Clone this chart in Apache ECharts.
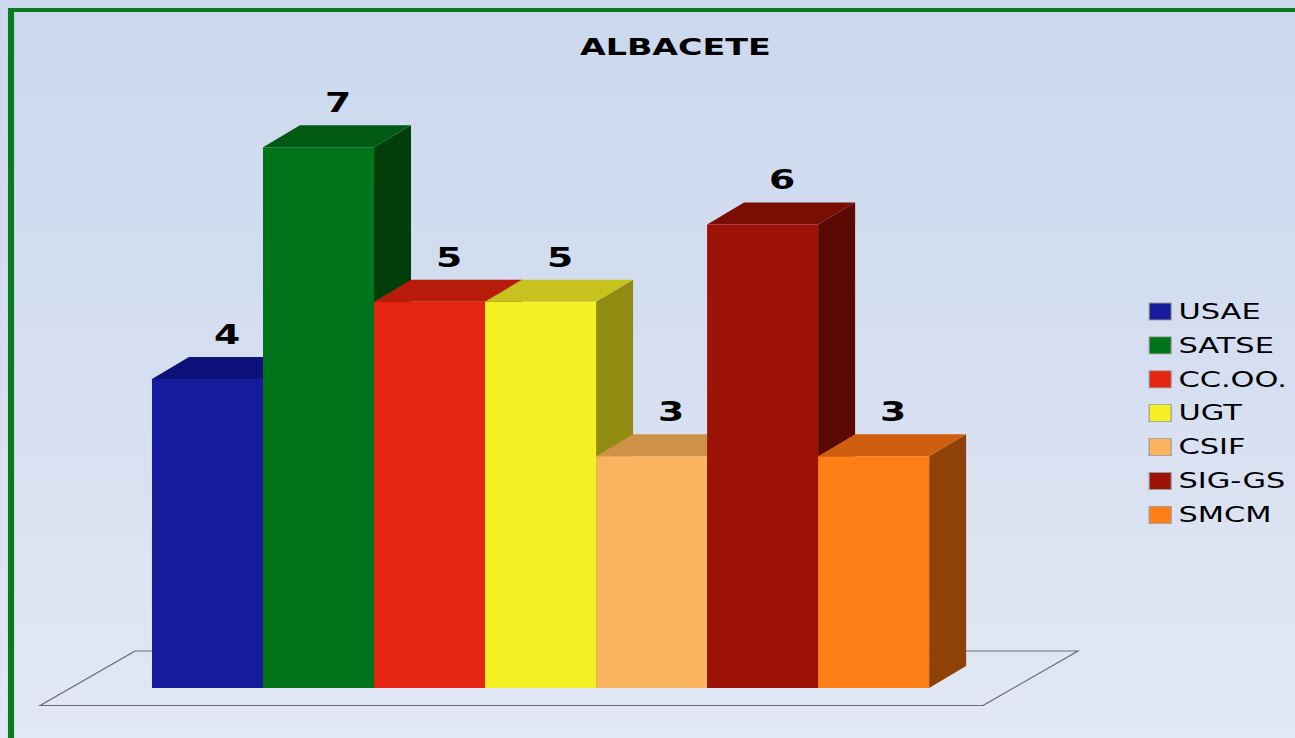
<!DOCTYPE html>
<html>
<head>
<meta charset="utf-8">
<script src="https://cdn.jsdelivr.net/npm/echarts@6/dist/echarts.min.js"></script>
<style>
    html, body {
        margin: 0;
        padding: 0;
        overflow: hidden;
        width: 1295px;
        height: 738px;
        background: linear-gradient(to bottom, #cbd8ee 0%, #d6dff1 50%, #e2e8f4 100%);
    }
    /* the source picture is stretched sideways, so the chart is drawn narrow and widened */
    #main {
        width: 893px;
        height: 738px;
        transform: scaleX(1.4502);
        transform-origin: 0 0;
    }
</style>
</head>
<body>
<div id="main"></div>
<script>
let categories = ['USAE', 'SATSE', 'CC.OO.', 'UGT', 'CSIF', 'SIG-GS', 'SMCM']
let values = [4, 7, 5, 5, 3, 6, 3]

let frontColors = ['#161b9c', '#00731b', '#e52511', '#f5f023', '#fab35e', '#9e1307', '#ff7f17']
let topColors = ['#0d127a', '#005a13', '#b81b0a', '#c7c21e', '#cf9048', '#7a0e05', '#d05e10']
let sideColors = ['#0a0e5e', '#003f0b', '#8a1408', '#918c11', '#9a6b36', '#590802', '#8f4207']

const depthX = 25.5
const depthY = -22

function renderBar(params, api) {
    const i = params.seriesIndex
    const v = api.value(1)
    const top = api.coord([api.value(0), v])
    const base = api.coord([api.value(0), 0])
    const w = api.size([1, 0])[0]
    const xl = top[0] - w / 2
    const xr = top[0] + w / 2
    const yt = top[1]
    const yb = base[1]

    return {
        type: 'group',
        children: [
            {
                type: 'polygon',
                shape: {points: [[xr, yt], [xr + depthX, yt + depthY], [xr + depthX, yb + depthY], [xr, yb]]},
                style: {fill: sideColors[i]}
            },
            {
                type: 'polygon',
                shape: {points: [[xl, yt], [xr, yt], [xr + depthX, yt + depthY], [xl + depthX, yt + depthY]]},
                style: {fill: topColors[i]}
            },
            {
                type: 'rect',
                shape: {x: xl, y: yt, width: w, height: yb - yt},
                style: {fill: frontColors[i]}
            },
            {
                type: 'text',
                x: top[0] + 13.5,
                y: yt - 44,
                style: {
                    text: String(v),
                    align: 'center',
                    verticalAlign: 'middle',
                    fontSize: 26,
                    fontWeight: 'bold',
                    fontFamily: 'DejaVu Sans',
                    fill: '#000'
                }
            }
        ]
    }
}

const chart = echarts.init(document.getElementById('main'), null, {renderer: 'svg'})

const series = categories.map((name, i) => ({
    name: name,
    type: 'custom',
    renderItem: renderBar,
    itemStyle: {color: frontColors[i]},
    data: [[i, values[i]]]
}))

const option = {
    backgroundColor: 'transparent',
    animation: false,
    title: {
        text: 'ALBACETE',
        left: 460.7,
        top: 30,
        textAlign: 'center',
        textStyle: {
            fontSize: 23,
            fontWeight: 'bold',
            fontFamily: 'DejaVu Sans',
            color: '#000'
        }
    },
    legend: {
        data: categories,
        orient: 'vertical',
        left: 787,
        top: 296,
        icon: 'rect',
        itemWidth: 15.2,
        itemHeight: 17,
        itemGap: 12.9,
        itemStyle: {borderColor: '#9a9a9a', borderWidth: 0.8},
        textStyle: {
            fontSize: 21,
            lineHeight: 20,
            fontFamily: 'DejaVu Sans',
            color: '#000'
        }
    },
    grid: {
        left: 104.8,
        right: 252.3,
        top: 70,
        bottom: 50
    },
    xAxis: {
        type: 'category',
        data: categories,
        show: false
    },
    yAxis: {
        type: 'value',
        min: 0,
        max: 8,
        show: false
    },
    graphic: [
        {
            type: 'polygon',
            z: -1,
            shape: {points: [[27.6, 705.5], [677.9, 705.5], [743.4, 651], [93.1, 651]]},
            style: {fill: 'none', stroke: '#6a6a72', lineWidth: 1}
        },
        {
            type: 'rect',
            shape: {x: 7.6, y: 10, width: 1000, height: 900},
            style: {fill: 'none', stroke: '#0a7a1f', lineWidth: 4.2}
        }
    ],
    series: series
}

chart.setOption(option)
</script>
</body>
</html>
